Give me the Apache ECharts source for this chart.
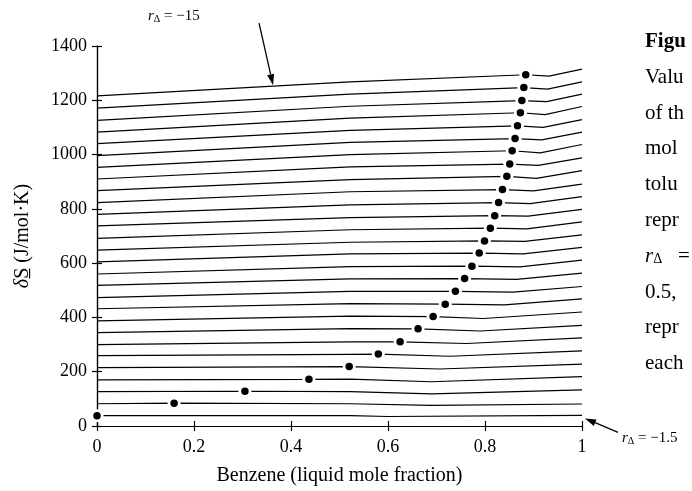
<!DOCTYPE html>
<html>
<head>
<meta charset="utf-8">
<script src="https://cdn.jsdelivr.net/npm/echarts@6/dist/echarts.min.js"></script>
<style>
  html, body { margin: 0; padding: 0; background: #fff; }
  #main { width: 692px; height: 491px; }
</style>
</head>
<body>
<div id="main"></div>
<script>
// r_delta for each curve, bottom (-1.5) to top (-15)
const rValues = [-1.5, -2, -2.5, -3, -3.5, -4, -4.5, -5, -5.5, -6, -6.5, -7, -7.5, -8,
  -8.5, -9, -9.5, -10, -10.5, -11, -11.5, -12, -12.5, -13, -13.5, -14, -14.5, -15]

// curve value at x = 0
const leftY = [38, 82, 127, 170, 215, 259, 300, 344, 387, 432, 473, 518, 560, 605,
  648, 691, 737, 780, 823, 867, 910, 953, 996, 1040, 1083, 1126, 1171, 1216]

// curve value at x = 0.522
const midX = 0.522
const midY = [38, 82, 127, 173, 219, 264, 310, 359, 405, 451, 496, 542, 587, 634,
  677, 723, 768, 815, 863, 908, 955, 1000, 1045, 1089, 1134, 1178, 1223, 1268]

// the marked point on each curve
const dotX = [0, 0.159, 0.305, 0.437, 0.52, 0.58, 0.625, 0.662, 0.693, 0.718, 0.739, 0.758, 0.773, 0.788,
  0.799, 0.811, 0.82, 0.828, 0.836, 0.845, 0.851, 0.856, 0.862, 0.867, 0.873, 0.876, 0.88, 0.884]
const dotY = [38, 84, 128, 172, 219, 265, 310, 358, 403, 449, 496, 543, 589, 637,
  682, 729, 775, 823, 871, 920, 965, 1014, 1059, 1106, 1154, 1199, 1247, 1294]

// low kink near the right end
const kinkX = [0.6, 0.69, 0.69, 0.69, 0.707, 0.728, 0.762, 0.79, 0.797, 0.84, 0.858, 0.865, 0.872, 0.879,
  0.882, 0.886, 0.889, 0.893, 0.9, 0.906, 0.91, 0.914, 0.917, 0.92, 0.924, 0.927, 0.929, 0.932]
const kinkY = [35, 76, 118, 163, 210, 257, 304, 350, 396, 446, 493, 540, 586, 634,
  680, 726, 773, 819, 866, 912, 960, 1006, 1054, 1100, 1147, 1195, 1241, 1289]

// curve value at x = 1
const rightY = [39, 81, 133, 182, 228, 277, 325, 371, 420, 468, 514, 563, 611, 658,
  704, 752, 798, 845, 891, 941, 988, 1037, 1083, 1129, 1177, 1223, 1268, 1315]

const xTicks = [0, 0.2, 0.4, 0.6, 0.8, 1]
const yTicks = [0, 200, 400, 600, 800, 1000, 1200, 1400]

const caption = ['Figu', 'Valu', 'of th', 'mol', 'tolu', 'repr', '{r|r}{d|Δ}{e|   =}', '0.5,', 'repr', 'each']

const serif = 'Liberation Serif'
const ink = '#000'

const chart = echarts.init(document.getElementById('main'))

const lineSeries = rValues.map((r, i) => {
  let pts = [[0, leftY[i]], [midX, midY[i]], [dotX[i], dotY[i]], [kinkX[i], kinkY[i]], [1, rightY[i]]]
  if (dotX[i] === 0) pts.shift()
  pts.sort((a, b) => a[0] - b[0])
  return {
    name: 'r ' + r,
    type: 'line',
    data: pts,
    symbol: 'none',
    silent: true,
    z: 2,
    lineStyle: { color: ink, width: 1.2 }
  }
})

const dots = dotX.map((x, i) => [x, dotY[i]])

const baseAxis = {
  type: 'value',
  splitLine: { show: false },
  axisLine: { show: true, lineStyle: { color: ink, width: 1.2 } },
  axisTick: { show: true, inside: true, length: 5, lineStyle: { color: ink, width: 1.2 } }
}

chart.setOption({
  animation: false,
  backgroundColor: '#fff',
  grid: { left: 97, right: 110, top: 46, bottom: 63 },
  xAxis: [{
    ...baseAxis,
    min: xTicks[0], max: xTicks[xTicks.length - 1], interval: 0.2,
    position: 'bottom',
    axisLabel: { color: ink, fontFamily: serif, fontSize: 18, margin: 12 },
    name: 'Benzene (liquid mole fraction)',
    nameLocation: 'middle',
    nameGap: 40,
    nameTextStyle: { color: ink, fontFamily: serif, fontSize: 20 }
  }, {
    ...baseAxis,
    min: 0, max: 1, interval: 0.2,
    position: 'top',
    axisLabel: { show: false }
  }],
  yAxis: [{
    ...baseAxis,
    min: yTicks[0], max: yTicks[yTicks.length - 1], interval: 200,
    position: 'left',
    axisLabel: { color: ink, fontFamily: serif, fontSize: 18, margin: 10, formatter: v => String(v) },
    name: '{d|δ}S\u0332 (J/mol·K)',
    nameLocation: 'middle',
    nameGap: 64,
    nameTextStyle: {
      color: ink, fontFamily: serif, fontSize: 20,
      rich: { d: { fontStyle: 'italic', fontFamily: serif, fontSize: 20, color: ink } }
    }
  }, {
    ...baseAxis,
    min: 0, max: 1400, interval: 200,
    position: 'right',
    axisLabel: { show: false }
  }],
  series: [
    ...lineSeries,
    {
      type: 'scatter', data: dots, symbolSize: 13, clip: false, silent: true, z: 3,
      itemStyle: { color: '#fff', opacity: 1 }
    },
    {
      type: 'scatter', data: dots, symbolSize: 7.5, clip: false, silent: true, z: 4,
      itemStyle: { color: ink, opacity: 1 }
    }
  ]
})

// arrows and labels
function arrow(tail, tip) {
  const dx = tip[0] - tail[0], dy = tip[1] - tail[1]
  const len = Math.sqrt(dx * dx + dy * dy)
  const ux = dx / len, uy = dy / len
  const hl = 11, hw = 3.5
  const bx = tip[0] - ux * hl, by = tip[1] - uy * hl
  return [{
    type: 'line',
    shape: { x1: tail[0], y1: tail[1], x2: bx, y2: by },
    style: { stroke: ink, lineWidth: 1.3 }
  }, {
    type: 'polygon',
    shape: { points: [tip, [bx - uy * hw, by + ux * hw], [bx + uy * hw, by - ux * hw]] },
    style: { fill: ink }
  }]
}

const topTip = chart.convertToPixel({ gridIndex: 0 }, [0.363, 1216 + (1268 - 1216) * 0.363 / midX])
const botTip = chart.convertToPixel({ gridIndex: 0 }, [1, rightY[0]])
topTip[1] -= 1
botTip[0] += 3; botTip[1] += 3

const labelRich = {
  r: { fontStyle: 'italic', fontFamily: serif, fontSize: 15, color: ink },
  d: { fontFamily: serif, fontSize: 10, color: ink, verticalAlign: 'bottom', lineHeight: 10 },
  e: { fontFamily: serif, fontSize: 15, color: ink }
}
const capRich = {
  r: { fontStyle: 'italic', fontFamily: serif, fontSize: 21, color: ink },
  d: { fontFamily: serif, fontSize: 14, color: ink, verticalAlign: 'bottom', lineHeight: 14 },
  e: { fontFamily: serif, fontSize: 21, color: ink }
}

const graphics = [
  ...arrow([topTip[0] - 14, topTip[1] - 62], topTip),
  ...arrow([botTip[0] + 33, botTip[1] + 14], botTip),
  {
    type: 'text', left: 148, top: 9,
    style: { text: '{r|r}{d|Δ}{e| = −15}', rich: labelRich, fill: ink }
  },
  {
    type: 'text', left: 622, top: 431,
    style: { text: '{r|r}{d|Δ}{e| = −1.5}', rich: labelRich, fill: ink }
  }
]

caption.forEach((t, i) => {
  graphics.push({
    type: 'text', left: 645, top: 31 + i * 35.8,
    style: {
      text: t, rich: capRich, fill: ink,
      font: (i === 0 ? 'bold ' : '') + '21px "Liberation Serif"'
    }
  })
})

chart.setOption({ graphic: graphics })
</script>
</body>
</html>
